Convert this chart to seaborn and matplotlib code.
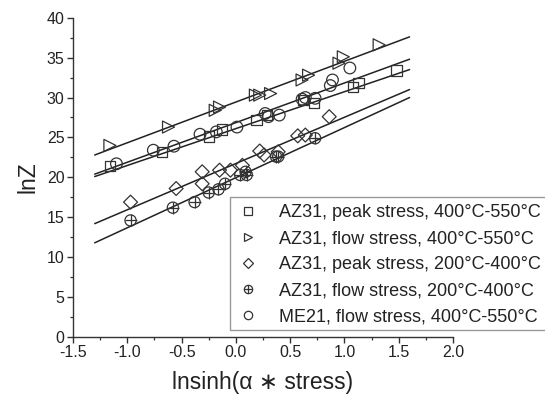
import numpy as np
import pandas as pd
import seaborn as sns
import matplotlib
matplotlib.use("Agg")
import matplotlib.pyplot as plt
from matplotlib.ticker import MultipleLocator, FormatStrFormatter
from matplotlib.lines import Line2D
from matplotlib.patches import Rectangle
from matplotlib.legend_handler import HandlerTuple

# ---- data ----
sq_x = [-1.16, -0.68, -0.25, -0.13, 0.19, 0.29, 0.62, 0.72, 1.08, 1.13, 1.48]
sq_y = [21.4, 23.2, 25.1, 26.0, 27.2, 27.8, 29.7, 29.3, 31.3, 31.8, 33.4]

tri_x = [-1.16, -0.62, -0.19, -0.15, 0.18, 0.22, 0.32, 0.61, 0.67, 0.95, 0.99, 1.32]
tri_y = [24.0, 26.3, 28.4, 28.8, 30.3, 30.3, 30.5, 32.2, 32.8, 34.3, 35.1, 36.6]

dia_x = [-0.97, -0.55, -0.31, -0.31, -0.15, -0.05, 0.06, 0.22, 0.26, 0.39, 0.57, 0.64, 0.86]
dia_y = [16.9, 18.6, 19.2, 20.7, 20.9, 20.9, 21.5, 23.3, 22.8, 23.2, 25.2, 25.3, 27.6]

crs_x = [-0.97, -0.58, -0.38, -0.25, -0.16, -0.10, 0.04, 0.09, 0.10, 0.37, 0.39, 0.73]
crs_y = [14.6, 16.2, 16.9, 18.1, 18.5, 19.2, 20.3, 20.7, 20.3, 22.6, 22.6, 24.9]

me_x = [-1.10, -0.76, -0.57, -0.33, -0.18, 0.01, 0.27, 0.30, 0.40, 0.61, 0.64, 0.73, 0.87, 0.89, 1.05]
me_y = [21.7, 23.4, 23.9, 25.4, 25.7, 26.3, 28.0, 27.6, 27.8, 29.8, 30.0, 29.9, 31.5, 32.2, 33.7]

fit_x = [-1.3, 1.6]
fit_tri = [22.8, 37.6]
fit_me = [20.4, 34.8]
fit_sq = [20.1, 33.5]
fit_dia = [14.2, 31.0]
fit_crs = [11.8, 30.0]

labels = ["AZ31, peak stress, 400°C-550°C",
          "AZ31, flow stress, 400°C-550°C",
          "AZ31, peak stress, 200°C-400°C",
          "AZ31, flow stress, 200°C-400°C",
          "ME21, flow stress, 400°C-550°C"]

x_ticks = [-1.5, -1.0, -0.5, 0.0, 0.5, 1.0, 1.5, 2.0]
y_ticks = [0, 5, 10, 15, 20, 25, 30, 35, 40]

# ---- figure ----
sns.set_style("white")
plt.rcParams['font.family'] = ['Liberation Sans', 'DejaVu Sans']

W, H = 545, 398
fig = plt.figure(figsize=(W / 100, H / 100), dpi=100)
ax = fig.add_axes([73 / W, 1 - 337 / H, 380 / W, (337 - 17.7) / H])

ec = "#333333"

# fit lines
fits = pd.DataFrame({
    "x": fit_x * 5,
    "y": fit_tri + fit_me + fit_sq + fit_dia + fit_crs,
    "g": ["t"] * 2 + ["m"] * 2 + ["s"] * 2 + ["d"] * 2 + ["c"] * 2,
})
sns.lineplot(data=fits, x="x", y="y", units="g", estimator=None, color="#222222",
             lw=1.1, ax=ax, legend=False)

def pts(x, y, marker, size, **kw):
    df = pd.DataFrame({"x": x, "y": y})
    sns.scatterplot(data=df, x="x", y="y", marker=marker, s=size,
                    facecolor="none", edgecolor=ec, linewidth=0.9, ax=ax,
                    legend=False, zorder=3, **kw)

pts(sq_x, sq_y, "s", 55)
pts(tri_x, tri_y, ">", 75)
pts(dia_x, dia_y, "D", 50)
pts(crs_x, crs_y, "o", 65)
# cross inside crossed circle
df_c = pd.DataFrame({"x": crs_x, "y": crs_y})
sns.scatterplot(data=df_c, x="x", y="y", marker="+", s=65, color=ec,
                linewidth=0.9, ax=ax, legend=False, zorder=3)
pts(me_x, me_y, "o", 70)

ax.set_xlim(-1.5, 2.0)
ax.set_ylim(0, 40)
ax.set_xticks(x_ticks)
ax.set_yticks(y_ticks)
ax.xaxis.set_major_formatter(FormatStrFormatter("%.1f"))
ax.xaxis.set_minor_locator(MultipleLocator(0.25))
ax.yaxis.set_minor_locator(MultipleLocator(2.5))
ax.tick_params(which="major", direction="out", length=4, width=1, color=ec,
               labelsize=11.5, labelcolor="#222222", pad=2,
               bottom=True, left=True)
ax.tick_params(which="minor", direction="out", length=2.5, width=0.9, color=ec,
               bottom=True, left=True)
for s in ["top", "right"]:
    ax.spines[s].set_visible(False)
for s in ["left", "bottom"]:
    ax.spines[s].set_color(ec)
    ax.spines[s].set_linewidth(1.0)

ax.set_xlabel("lnsinh(α ∗ stress)", fontsize=16.5, color="#222222", labelpad=8,
              family=['Liberation Sans', 'DejaVu Sans'])
ax.set_ylabel("lnZ", fontsize=16.5, color="#222222", labelpad=5)

# legend (frame drawn separately so it runs past the right edge as in the reference)
ms = 6
h_sq = Line2D([], [], ls="none", marker="s", ms=ms * 0.85, mfc="none", mec=ec, mew=0.9)
h_tri = Line2D([], [], ls="none", marker=">", ms=ms, mfc="none", mec=ec, mew=0.9)
h_dia = Line2D([], [], ls="none", marker="D", ms=ms * 0.8, mfc="none", mec=ec, mew=0.9)
h_c1 = Line2D([], [], ls="none", marker="o", ms=ms, mfc="none", mec=ec, mew=0.9)
h_c2 = Line2D([], [], ls="none", marker="+", ms=ms, mec=ec, mew=0.9)
h_me = Line2D([], [], ls="none", marker="o", ms=ms, mfc="none", mec=ec, mew=0.9)
leg = fig.legend([h_sq, h_tri, h_dia, (h_c1, h_c2), h_me], labels,
                 handler_map={tuple: HandlerTuple(ndivide=1, pad=0)},
                 loc="upper left", bbox_to_anchor=(230 / W, 1 - 197 / H),
                 bbox_transform=fig.transFigure, fontsize=13, frameon=False,
                 labelspacing=0.5, handlelength=1.2, handletextpad=1.1,
                 borderpad=0.4, borderaxespad=0)
leg.set_zorder(10)
for t in leg.get_texts():
    t.set_color("#222222")

x0, x1 = 230 / W, 1.0
y0, y1 = 1 - 330 / H, 1 - 197 / H
fill = Rectangle((x0, y0), x1 - x0, y1 - y0, transform=fig.transFigure,
                 facecolor="white", edgecolor="none", zorder=5)
fig.patches.append(fill)
border = Line2D([x1 + 0.05, x0, x0, x1 + 0.05], [y1, y1, y0, y0],
                transform=fig.transFigure, color="#9a9a9a", lw=1.0, zorder=6)
fig.lines.append(border)

fig.savefig("out.png", dpi=100)
